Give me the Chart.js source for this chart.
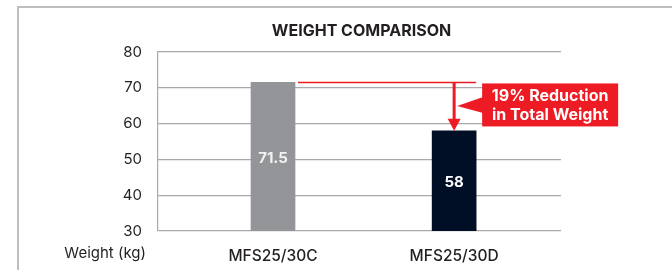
<!DOCTYPE html>
<html>
<head>
<meta charset="utf-8">
<script src="https://cdn.jsdelivr.net/npm/chart.js@4.4.1/dist/chart.umd.min.js"></script>
<style>
  html, body { margin: 0; padding: 0; background: #fff; }
  #wrap { position: relative; width: 672px; height: 270px; }
  #frame { position: absolute; left: 17px; top: 6px; width: 700px; height: 300px;
           border-left: 2px solid #bcbec0; border-top: 2px solid #bcbec0; }
  canvas { position: absolute; left: 0; top: 0; }
</style>
</head>
<body>
<div id="wrap">
  <div id="frame"></div>
  <canvas id="myChart" width="672" height="270"></canvas>
</div>
<script>
// data
let categories = ['MFS25/30C', 'MFS25/30D'];
let weights = [71.5, 58];
let barColors = ['#939598', '#000e26'];
let yTicks = [30, 40, 50, 60, 70, 80];
let titleText = 'WEIGHT COMPARISON';
let axisText = 'Weight (kg)';
let calloutLines = ['19% Reduction', 'in Total Weight'];

let fontName = 'Inter, "Open Sans", sans-serif';
let red = '#ed1c24';

// title, axis caption, bar labels and the red callout
let extras = {
    id: 'extras',
    afterDatasetsDraw: function (chart) {
        let ctx = chart.ctx;
        let area = chart.chartArea;
        let y = chart.scales.y;
        let bars = chart.getDatasetMeta(0).data;

        ctx.save();
        // title
        ctx.fillStyle = '#231f20';
        ctx.font = 'bold 16px ' + fontName;
        ctx.textAlign = 'center';
        ctx.textBaseline = 'middle';
        ctx.fillText(titleText, (area.left + area.right) / 2 + 2, 31);

        // y caption under the axis
        ctx.font = '15px ' + fontName;
        ctx.textAlign = 'right';
        ctx.fillText(axisText, area.left - 12, 253);

        // values inside bars
        ctx.font = 'bold 15px ' + fontName;
        ctx.textAlign = 'center';
        bars.forEach(function (bar, i) {
            ctx.fillStyle = i === 0 ? '#f1f2f2' : '#ffffff';
            ctx.fillText(String(weights[i]), bar.x, (bar.y + area.bottom) / 2 + 2);
        });

        // red reference line at the first bar height
        let b0 = bars[0], b1 = bars[1];
        let topY = y.getPixelForValue(weights[0]);
        let lowY = y.getPixelForValue(weights[1]);
        let half = b1.width / 2;
        ctx.strokeStyle = red;
        ctx.lineWidth = 1.5;
        ctx.beginPath();
        ctx.moveTo(b0.x + half + 3, topY);
        ctx.lineTo(b1.x + half, topY);
        ctx.stroke();

        // arrow down to the second bar
        ctx.lineWidth = 3;
        ctx.beginPath();
        ctx.moveTo(b1.x, topY);
        ctx.lineTo(b1.x, lowY - 10);
        ctx.stroke();
        ctx.fillStyle = red;
        ctx.beginPath();
        ctx.moveTo(b1.x - 6.5, lowY - 12);
        ctx.lineTo(b1.x + 6.5, lowY - 12);
        ctx.lineTo(b1.x, lowY);
        ctx.closePath();
        ctx.fill();

        // callout box
        let boxL = b1.x + 28, boxT = topY + 1, boxW = 136, boxH = 43;
        ctx.fillRect(boxL, boxT, boxW, boxH);
        let midY = boxT + boxH / 2;
        ctx.beginPath();
        ctx.moveTo(boxL + 1, midY - 8);
        ctx.lineTo(b1.x + 3, midY + 1);
        ctx.lineTo(boxL + 1, midY + 8);
        ctx.closePath();
        ctx.fill();

        ctx.fillStyle = '#ffffff';
        ctx.font = 'bold 16px ' + fontName;
        ctx.textAlign = 'center';
        ctx.fillText(calloutLines[0], boxL + boxW / 2, boxT + 13);
        ctx.fillText(calloutLines[1], boxL + boxW / 2, boxT + 32);
        ctx.restore();
    }
};

let ctx = document.getElementById('myChart').getContext('2d');
let chart = new Chart(ctx, {
    type: 'bar',
    data: {
        datasets: [{
            data: weights.map(function (w, i) { return { x: i, y: w }; }),
            backgroundColor: barColors,
            barThickness: 44,
            borderWidth: 0
        }]
    },
    options: {
        responsive: false,
        animation: false,
        layout: { padding: { left: 0, right: 111, top: 52, bottom: 0 } },
        plugins: {
            legend: { display: false },
            title: { display: false },
            tooltip: { enabled: false }
        },
        scales: {
            x: {
                type: 'linear',
                offset: false,
                min: -0.635,
                max: 1.59,
                grid: { display: false, offset: false },
                border: { display: false },
                afterBuildTicks: function (scale) {
                    scale.ticks = categories.map(function (c, i) { return { value: i }; });
                },
                afterFit: function (scale) { scale.height = 39; },
                ticks: {
                    padding: 8,
                    color: '#231f20',
                    font: { family: fontName, size: 15.5, weight: '500' },
                    callback: function (v) { return categories[v]; }
                }
            },
            y: {
                min: 30,
                max: 80,
                afterBuildTicks: function (scale) {
                    scale.ticks = yTicks.map(function (v) { return { value: v }; });
                },
                afterFit: function (scale) { scale.width = 158; },
                grid: { color: '#a7a9ac', lineWidth: 1.2, drawTicks: false },
                border: { color: '#a7a9ac', width: 1.2 },
                ticks: {
                    padding: 16,
                    color: '#231f20',
                    font: { family: fontName, size: 15 }
                }
            }
        }
    },
    plugins: [extras]
});
</script>
</body>
</html>
